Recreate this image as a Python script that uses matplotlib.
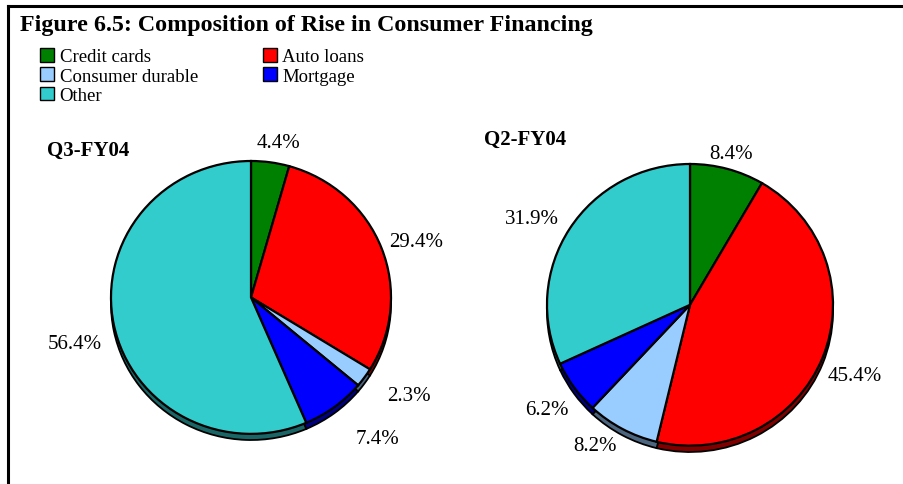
import math
import matplotlib.pyplot as plt
from matplotlib.patches import Patch

categories = ["Credit cards", "Auto loans", "Consumer durable", "Mortgage", "Other"]
q3_values = [4.4, 29.4, 2.3, 7.4, 56.4]
q2_values = [8.4, 45.4, 8.2, 6.2, 31.9]

colors = ["#008000", "#ff0000", "#99ccff", "#0000ff", "#33cccc"]
shadow_colors = ["#004000", "#800000", "#4d6680", "#000080", "#1a6666"]

W, H = 904, 485
plt.rcParams["font.family"] = ["Liberation Serif", "DejaVu Serif"]


def frac_box(x0, y0, x1, y1):
    # pixel box (top-left origin) -> figure fractions
    return [x0 / W, (H - y1) / H, (x1 - x0) / W, (y1 - y0) / H]


def draw_pie(fig, box, values, title, title_xy, label_pos):
    ax = fig.add_axes(frac_box(*box))
    # shadow pie, shifted a little downwards
    ax.pie(values, colors=shadow_colors, startangle=90, counterclock=False,
           radius=1.0, center=(0, -0.045),
           wedgeprops=dict(edgecolor="black", linewidth=1.3))
    wedges, _ = ax.pie(values, colors=colors, startangle=90, counterclock=False,
                       radius=1.0, center=(0, 0),
                       wedgeprops=dict(edgecolor="black", linewidth=1.6))
    # label = wedge mid-angle + small nudge (deg), at distance d
    for w, v, (nudge, d) in zip(wedges, values, label_pos):
        ang = math.radians((w.theta1 + w.theta2) / 2 + nudge)
        ax.text(d * math.cos(ang), d * math.sin(ang), f"{v:.1f}%",
                ha="center", va="center", fontsize=15)
    ax.set_aspect("auto")
    ax.set_xlim(-1, 1)
    ax.set_ylim(-1.045, 1)
    ax.axis("off")
    fig.text(title_xy[0] / W, 1 - title_xy[1] / H, title, fontsize=15,
             fontweight="bold", ha="left", va="center")
    return wedges


fig = plt.figure(figsize=(9.04, 4.85), dpi=100)

draw_pie(fig, (111, 162, 391, 441), q3_values, "Q3-FY04", (47, 151),
         [(-2, 1.15), (-2, 1.25), (3.5, 1.34), (4.6, 1.37), (3.3, 1.3)])
draw_pie(fig, (547, 165, 833, 453), q2_values, "Q2-FY04", (484, 140),
         [(0, 1.11), (-1.7, 1.26), (-5.5, 1.2), (0.7, 1.25), (3.7, 1.26)])

fig.text(20 / W, 1 - 25 / H, "Figure 6.5: Composition of Rise in Consumer Financing",
         fontsize=17.3, fontweight="bold", ha="left", va="center")

order = [0, 2, 4, 1, 3]
handles = [Patch(facecolor=colors[i], edgecolor="black", linewidth=1.0,
                 label=categories[i]) for i in order]
fig.legend(handles=handles, ncol=2, loc="upper left",
           bbox_to_anchor=(40 / W, 1 - 49 / H), frameon=False, fontsize=13.5,
           handlelength=0.75, handleheight=0.75, handletextpad=0.3,
           labelspacing=0.1, columnspacing=3.45, borderpad=0, borderaxespad=0)

# border lines (top and left only, as in the cropped original)
fig.add_artist(plt.Line2D([8 / W, 1], [1 - 7 / H, 1 - 7 / H], color="black",
                          linewidth=2.2, transform=fig.transFigure))
fig.add_artist(plt.Line2D([8 / W, 8 / W], [0, 1 - 7 / H], color="black",
                          linewidth=2.2, transform=fig.transFigure))

fig.savefig("out.png", dpi=100)
